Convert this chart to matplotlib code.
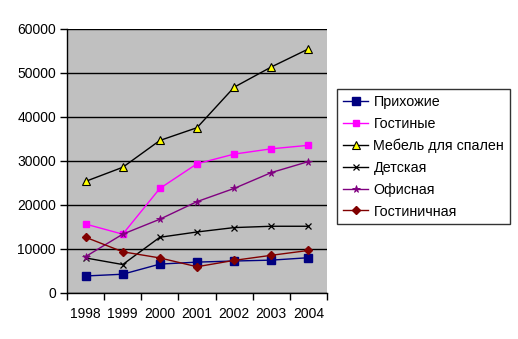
import matplotlib
matplotlib.use("Agg")
import matplotlib.pyplot as plt
import numpy as np

plt.rcParams['font.family'] = ['Liberation Sans', 'DejaVu Sans']

years = ["1998", "1999", "2000", "2001", "2002", "2003", "2004"]
prihozhie = [3800, 4200, 6500, 6950, 7200, 7400, 7950]
gostinye = [15600, 13300, 23700, 29300, 31500, 32700, 33500]
spalni = [25300, 28500, 34600, 37500, 46700, 51300, 55400]
detskaya = [7900, 6400, 12600, 13800, 14800, 15100, 15100]
ofisnaya = [8200, 13300, 16700, 20700, 23700, 27300, 29800]
gostinichnaya = [12600, 9300, 7900, 5900, 7350, 8500, 9600]

series = [
    ("Прихожие", prihozhie, dict(color="#000080", marker="s", markersize=5.5, markerfacecolor="#000080", markeredgecolor="#000080")),
    ("Гостиные", gostinye, dict(color="#FF00FF", marker="s", markersize=4.5, markerfacecolor="#FF00FF", markeredgecolor="#FF00FF")),
    ("Мебель для спален", spalni, dict(color="#000000", marker="^", markersize=6, markerfacecolor="#FFFF00", markeredgecolor="#000000", markeredgewidth=0.8)),
    ("Детская", detskaya, dict(color="#000000", marker="x", markersize=4.5, markeredgewidth=0.9)),
    ("Офисная", ofisnaya, dict(color="#800080", marker="*", markersize=5.5, markeredgewidth=0.6)),
    ("Гостиничная", gostinichnaya, dict(color="#800000", marker="D", markersize=4, markerfacecolor="#800000", markeredgecolor="#800000")),
]

fig = plt.figure(figsize=(5.18, 3.39), dpi=100)
ax = fig.add_axes([67/518, 1 - 292.7/339, 260/518, 264/339])
ax.set_facecolor("#C0C0C0")

x = np.arange(len(years))
for name, vals, style in series:
    ax.plot(x, vals, linewidth=1.0, label=name, **style)

ax.set_xlim(-0.5, len(years) - 0.5)
ax.set_ylim(0, 60000)
ax.set_yticks(np.arange(0, 60001, 10000))
ax.yaxis.grid(True, color="black", linewidth=1.0)
ax.set_axisbelow(True)
ax.set_xticks(np.arange(-0.5, len(years)), minor=False)
ax.set_xticklabels([])
ax.set_xticks(x, minor=True)
ax.set_xticklabels(years, minor=True)
ax.tick_params(axis="x", which="minor", length=0, labelsize=10, pad=10)
ax.tick_params(axis="x", which="major", length=5, direction="out", width=1)
ax.tick_params(axis="y", length=5, direction="out", width=1, labelsize=10, pad=3)
for side in ["top", "right"]:
    ax.spines[side].set_visible(False)
for side in ["left", "bottom"]:
    ax.spines[side].set_linewidth(1.0)
    ax.spines[side].set_color("black")

leg = fig.legend(loc="upper left", bbox_to_anchor=(337/518, 1 - 89/339),
                 frameon=True, fancybox=False, edgecolor="black", fontsize=10.3,
                 handlelength=1.8, handletextpad=0.35, borderpad=0.4, labelspacing=0.55,
                 borderaxespad=0)
leg.get_frame().set_linewidth(1.0)

fig.savefig("out.png", dpi=100)
